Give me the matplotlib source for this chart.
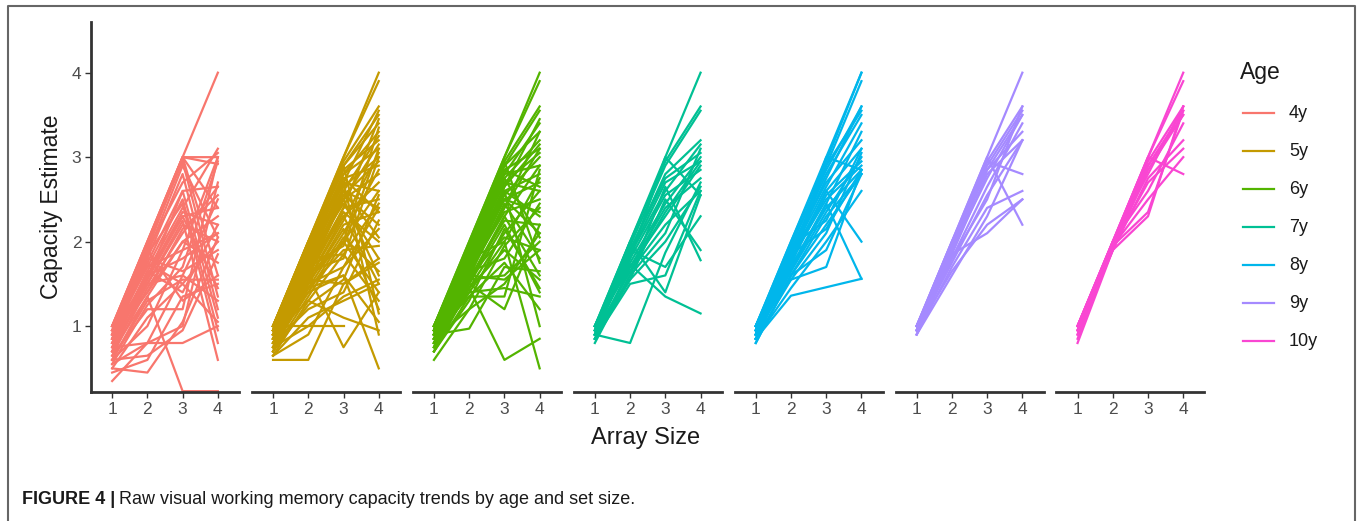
import matplotlib
matplotlib.use("Agg")
import matplotlib.pyplot as plt
import numpy as np

plt.rcParams['font.family'] = ['Liberation Sans', 'DejaVu Sans']

nan = np.nan
sizes = [1, 2, 3, 4]
ages = ['4y', '5y', '6y', '7y', '8y', '9y', '10y']
colors = ['#F8766D', '#C49A00', '#53B400', '#00C094', '#00B6EB', '#A58AFF', '#F946D2']

# one row per child: capacity at array size 1..4
age4 = [
    [1.00, 2.00, 3.00, 4.00], [1.00, 2.00, 3.00, 3.00], [1.00, 2.00, 3.00, 2.92],
    [0.95, 1.95, 3.00, 2.40], [0.90, 1.90, 3.00, 1.60], [1.00, 1.85, 2.90, 2.05],
    [0.95, 1.80, 2.80, 1.20], [0.90, 1.90, 2.70, 3.05], [0.85, 1.75, 2.60, 2.65],
    [1.00, 1.70, 2.50, 0.95], [0.80, 1.65, 2.40, 3.10], [0.90, 1.60, 2.35, 2.20],
    [0.75, 1.60, 2.30, 1.45], [0.85, 1.55, 2.30, 2.40], [0.70, 1.50, 2.25, 0.60],
    [0.95, 1.50, 2.20, 2.00], [0.65, 1.45, 2.10, 2.65], [0.80, 1.40, 2.00, 1.75],
    [0.60, 1.35, 2.00, 2.30], [0.90, 1.70, 1.90, 3.00], [0.75, 1.60, 1.80, 2.10],
    [0.55, 1.25, 1.70, 2.95], [0.85, 1.80, 1.65, 1.90], [0.70, 1.50, 1.60, 2.50],
    [0.95, 1.75, 1.50, 1.05], [0.60, 1.30, 1.55, 1.55], [0.80, 1.65, 1.40, 2.20],
    [0.50, 1.10, 1.50, 2.00], [0.65, 1.20, 1.20, 3.00], [1.00, 1.90, 1.30, 1.60],
    [0.55, 0.80, 0.80, 1.00], [0.35, 0.80, 1.60, 1.30], [0.50, 0.45, 1.05, 2.05],
    [0.60, 0.65, 0.95, 1.85], [0.75, 0.80, 1.00, 2.70], [0.70, 1.35, 0.23, 0.23],
    [0.90, 1.95, 2.95, 1.35], [0.85, 1.85, 2.45, 0.80], [0.70, 1.55, 2.60, 1.10],
    [0.95, 1.40, 2.15, 2.55], [0.60, 1.00, 1.90, 2.10], [0.45, 0.60, 1.35, 1.50],
]
age5 = [
    [1.00, 2.00, 3.00, 4.00], [1.00, 2.00, 3.00, 3.90], [1.00, 2.00, 2.95, 3.60],
    [1.00, 1.95, 2.90, 3.50], [0.95, 1.90, 2.90, 3.40], [1.00, 1.95, 2.85, 3.20],
    [0.95, 1.90, 2.80, 3.30], [0.90, 1.85, 2.80, 3.10], [1.00, 1.90, 2.75, 2.90],
    [0.95, 1.80, 2.70, 3.55], [0.90, 1.80, 2.70, 2.60], [0.85, 1.75, 2.65, 3.00],
    [1.00, 1.85, 2.60, 2.40], [0.90, 1.70, 2.60, 3.25], [0.95, 1.75, 2.55, 2.20],
    [0.85, 1.70, 2.50, 2.80], [0.80, 1.65, 2.50, 3.15], [1.00, 1.80, 2.45, 1.80],
    [0.90, 1.65, 2.40, 2.50], [0.85, 1.60, 2.40, 3.45], [0.80, 1.60, 2.35, 2.00],
    [0.95, 1.70, 2.30, 1.50], [0.75, 1.55, 2.30, 2.70], [0.90, 1.55, 2.25, 3.05],
    [0.80, 1.50, 2.20, 2.35], [0.70, 1.50, 2.15, 1.20], [0.85, 1.45, 2.10, 2.85],
    [0.75, 1.40, 2.05, 1.65], [0.95, 1.60, 2.00, 2.60], [0.70, 1.35, 2.00, 3.35],
    [0.80, 1.45, 1.90, 1.95], [1.00, 1.80, 1.85, 2.45], [0.65, 1.30, 1.85, 1.30],
    [0.90, 1.65, 1.80, 3.00], [0.75, 1.50, 1.70, 2.15], [0.85, 1.40, 1.60, 1.05],
    [0.70, 1.25, 1.55, 2.55], [0.95, 1.55, 1.50, 1.75], [0.80, 1.20, 1.40, 2.25],
    [0.65, 1.10, 1.30, 1.50], [0.90, 1.30, 1.10, 0.95], [0.60, 0.60, 1.50, 1.80],
    [1.00, 1.00, 1.00, nan], [0.85, 1.60, 0.75, 1.40], [0.75, 1.45, 1.60, 0.50],
    [0.95, 1.95, 2.90, 1.15], [1.00, 2.00, 2.70, 0.90], [0.90, 1.75, 2.50, 1.60],
    [0.80, 1.55, 2.00, 1.40], [1.00, 1.90, 2.60, 2.05], [0.85, 1.85, 2.75, 2.35],
    [0.70, 1.60, 2.55, 2.95], [0.95, 1.70, 1.95, 3.10], [0.65, 0.90, 1.70, 2.40],
    [0.75, 1.00, 1.35, 1.55],
]
age6 = [
    [1.00, 2.00, 3.00, 4.00], [1.00, 2.00, 3.00, 3.90], [1.00, 1.95, 2.95, 3.60],
    [0.95, 1.95, 2.90, 3.55], [1.00, 1.90, 2.90, 3.30], [0.95, 1.90, 2.85, 3.10],
    [0.90, 1.85, 2.80, 3.40], [1.00, 1.90, 2.80, 2.90], [0.95, 1.85, 2.75, 3.20],
    [0.90, 1.80, 2.70, 3.05], [1.00, 1.80, 2.70, 2.60], [0.85, 1.75, 2.65, 3.15],
    [0.95, 1.75, 2.60, 2.80], [0.90, 1.70, 2.60, 2.30], [0.85, 1.70, 2.55, 3.00],
    [1.00, 1.75, 2.50, 2.10], [0.80, 1.65, 2.50, 2.70], [0.90, 1.60, 2.45, 1.80],
    [0.85, 1.60, 2.40, 3.10], [0.95, 1.65, 2.35, 2.50], [0.80, 1.55, 2.30, 1.60],
    [0.75, 1.50, 2.30, 2.90], [0.90, 1.55, 2.25, 2.20], [0.85, 1.50, 2.20, 1.40],
    [0.70, 1.45, 2.10, 2.60], [0.95, 1.60, 2.05, 1.90], [0.80, 1.40, 2.00, 2.75],
    [0.75, 1.45, 1.90, 1.55], [0.90, 1.65, 1.80, 2.45], [0.70, 1.35, 1.75, 1.20],
    [0.85, 1.55, 1.60, 2.00], [0.80, 1.40, 1.45, 1.35], [0.90, 0.97, 1.70, 1.65],
    [0.95, 1.45, 0.60, 0.85], [0.75, 1.50, 1.20, 2.20], [1.00, 1.80, 2.00, 0.50],
    [0.60, 1.20, 1.95, 2.40], [0.85, 1.70, 2.95, 1.75], [1.00, 1.95, 2.75, 2.05],
    [0.90, 1.80, 2.60, 1.00], [0.95, 1.70, 2.40, 3.30], [0.80, 1.60, 2.85, 2.65],
    [0.85, 1.20, 1.50, 2.10], [0.70, 1.30, 2.15, 1.45], [0.95, 1.85, 2.50, 2.35],
    [1.00, 1.60, 1.55, 1.90], [0.75, 1.55, 2.65, 3.45], [0.90, 1.35, 1.35, 2.85],
]
age7 = [
    [1.00, 2.00, 3.00, 4.00], [1.00, 2.00, 2.95, 3.60], [0.95, 1.95, 2.90, 3.55],
    [1.00, 1.90, 2.80, 3.20], [0.95, 1.90, 2.75, 3.05], [0.90, 1.85, 2.70, 2.95],
    [1.00, 1.85, 2.60, 3.15], [0.90, 1.80, 2.55, 2.85], [0.95, 1.75, 2.45, 3.00],
    [0.85, 1.70, 2.40, 2.75], [1.00, 1.70, 2.30, 2.90], [0.90, 1.65, 2.20, 2.60],
    [0.85, 1.60, 2.10, 3.10], [0.95, 1.55, 2.00, 2.65], [0.90, 1.80, 3.00, 2.55],
    [0.85, 1.50, 1.60, 2.60], [0.90, 0.80, 1.87, 2.70], [1.00, 1.73, 1.35, 1.15],
    [0.95, 2.00, 1.40, 2.55], [0.80, 1.60, 2.65, 1.78], [1.00, 1.90, 1.70, 2.30],
    [0.90, 1.65, 2.35, 2.95], [0.85, 1.55, 2.50, 1.90],
]
age8 = [
    [1.00, 2.00, 3.00, 4.00], [1.00, 2.00, 2.95, 4.00], [0.95, 1.95, 2.90, 3.90],
    [1.00, 1.95, 2.85, 3.60], [0.95, 1.90, 2.80, 3.50], [0.90, 1.85, 2.75, 3.60],
    [1.00, 1.90, 2.70, 3.20], [0.95, 1.85, 2.65, 3.40], [0.90, 1.80, 2.60, 3.10],
    [0.85, 1.75, 2.55, 2.95], [1.00, 1.80, 2.50, 2.90], [0.90, 1.70, 2.45, 3.30],
    [0.85, 1.70, 2.40, 2.85], [0.95, 1.65, 2.35, 3.00], [0.80, 1.60, 2.30, 2.80],
    [0.90, 1.60, 2.20, 2.80], [0.85, 1.55, 2.10, 3.05], [0.95, 1.75, 2.60, 2.00],
    [0.90, 1.65, 2.45, 1.56], [0.85, 1.36, 1.46, 1.56], [1.00, 1.55, 1.70, 2.85],
    [0.80, 1.60, 1.90, 2.80], [0.95, 1.95, 2.25, 3.10], [0.90, 1.75, 3.00, 2.85],
    [0.85, 1.45, 2.00, 2.60], [1.00, 1.85, 2.15, 2.85], [0.90, 1.70, 2.90, 3.55],
]
age9 = [
    [1.00, 2.00, 3.00, 4.00], [1.00, 1.95, 2.95, 3.60], [0.95, 1.95, 2.90, 3.55],
    [1.00, 1.90, 2.85, 3.50], [0.95, 1.85, 2.80, 3.20], [1.00, 1.90, 2.75, 3.50],
    [0.90, 1.80, 2.65, 3.40], [0.95, 1.75, 2.55, 3.20], [1.00, 2.00, 3.00, 2.20],
    [0.95, 1.95, 2.95, 2.80], [0.90, 1.70, 2.40, 2.60], [0.95, 1.65, 2.20, 2.50],
    [1.00, 1.85, 2.10, 2.50], [0.90, 1.60, 2.30, 3.20], [0.95, 1.80, 2.50, 3.60],
    [1.00, 2.00, 2.85, 3.30],
]
age10 = [
    [1.00, 2.00, 3.00, 4.00], [1.00, 2.00, 3.00, 3.90], [0.95, 1.95, 2.95, 3.60],
    [1.00, 1.95, 2.90, 3.55], [0.95, 1.90, 2.85, 3.50], [1.00, 2.00, 2.80, 3.60],
    [0.90, 1.90, 2.75, 3.20], [0.85, 1.95, 2.70, 3.10], [1.00, 2.00, 3.00, 2.80],
    [0.95, 1.95, 2.35, 3.55], [0.80, 1.90, 2.30, 3.60], [0.90, 2.00, 2.60, 3.40],
    [0.95, 1.90, 2.90, 3.50], [1.00, 1.95, 2.50, 3.00],
]
groups = [age4, age5, age6, age7, age8, age9, age10]

W, H = 1357, 521
fig = plt.figure(figsize=(W / 100, H / 100), dpi=100)

axis_col = '#333333'
for i, (rows, col) in enumerate(zip(groups, colors)):
    ax = fig.add_axes([(91 + 160.9 * i) / W, 1 - 392 / H, 148 / W, 370 / H])
    for r in rows:
        ax.plot(sizes, r, color=col, lw=1.6)
    ax.set_xlim(0.4, 4.6)
    ax.set_ylim(0.22, 4.6)
    ax.set_xticks(sizes)
    ax.spines['top'].set_visible(False)
    ax.spines['right'].set_visible(False)
    ax.spines['bottom'].set_linewidth(2)
    ax.spines['bottom'].set_color(axis_col)
    ax.tick_params(axis='x', length=4, width=1, color=axis_col,
                   labelsize=12.5, labelcolor='#4D4D4D', pad=3)
    if i == 0:
        ax.spines['left'].set_linewidth(2)
        ax.spines['left'].set_color(axis_col)
        ax.set_yticks([1, 2, 3, 4])
        ax.tick_params(axis='y', length=4, width=1, color=axis_col,
                       labelsize=12.5, labelcolor='#4D4D4D', pad=3)
    else:
        ax.spines['left'].set_visible(False)
        ax.set_yticks([])

fig.text(52 / W, 1 - 207 / H, 'Capacity Estimate', rotation=90,
         ha='center', va='center', fontsize=16.5, color='#1a1a1a')
fig.text(646 / W, 1 - 438 / H, 'Array Size', ha='center', va='center',
         fontsize=17, color='#1a1a1a')

# legend
fig.text(1240 / W, 1 - 72 / H, 'Age', ha='left', va='center',
         fontsize=16.5, color='#1a1a1a')
for k, (lab, col) in enumerate(zip(ages, colors)):
    y = 1 - (113 + 38 * k) / H
    fig.add_artist(plt.Line2D([1243 / W, 1274 / W], [y, y], color=col, lw=1.6))
    fig.text(1289 / W, y, lab, ha='left', va='center', fontsize=13, color='#1a1a1a')

# frame (bottom edge runs past the picture)
fig.add_artist(plt.Line2D([8 / W, 8 / W, 1355 / W, 1355 / W],
                          [-0.1, 1 - 6 / H, 1 - 6 / H, -0.1],
                          color='#666666', lw=1.5))

# caption
cap1 = fig.text(22 / W, 1 - 500 / H, 'FIGURE 4 |', ha='left', va='center',
                fontsize=13, fontweight='bold', color='#1a1a1a')
fig.canvas.draw()
bb = cap1.get_window_extent()
fig.text((bb.x1 + 4) / W, 1 - 500 / H,
         'Raw visual working memory capacity trends by age and set size.',
         ha='left', va='center', fontsize=13, color='#1a1a1a')

fig.savefig('out.png', dpi=100)
